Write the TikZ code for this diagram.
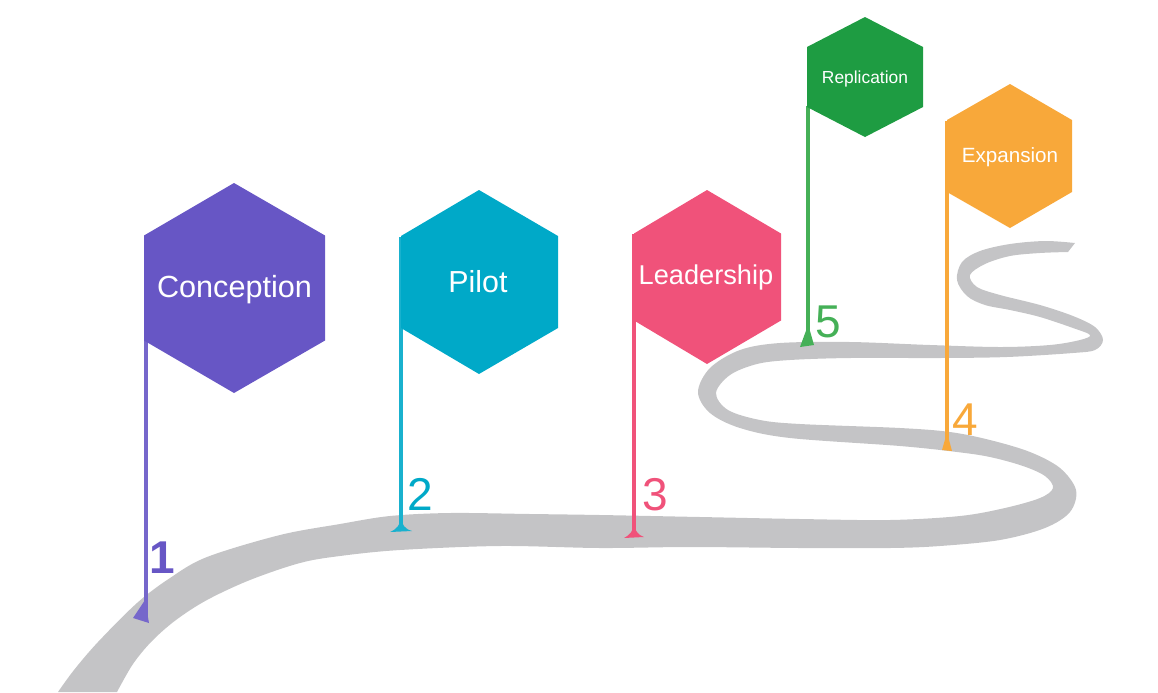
\documentclass[tikz,border=0pt]{standalone}
\usepackage{fontspec}
\setmainfont{Liberation Sans}
\usepackage{tikz}

\definecolor{roadgray}{HTML}{C4C4C6}
\definecolor{conccol}{HTML}{6756C5}
\definecolor{pilotcol}{HTML}{00A9C8}
\definecolor{leadcol}{HTML}{F0527A}
\definecolor{replcol}{HTML}{1E9C42}
\definecolor{replpole}{HTML}{45B057}
\definecolor{expcol}{HTML}{F8A83A}

\begin{document}
\begin{tikzpicture}[x=0.5pt,y=-0.5pt,
    hexlabel/.style={text=white, inner sep=0pt, anchor=base},
    numlabel/.style={inner sep=0pt, anchor=base, font=\fontsize{23}{26}\selectfont},
    pole/.style={line width=1.6pt}]
  \useasboundingbox (0,0) rectangle (1158,692);

  % the road
  \fill[roadgray] plot[smooth, tension=0.55] coordinates {
      (58,692) (74,670) (98,642) (137,603) (170,578) (207,557) (280,535)
      (340,524) (390,516) (450,513) (530,514) (600,515) (700,517) (800,519)
      (890,520) (960,516) (1005,508) (1040,498) (1053,488) (1045,476)
      (1023,466) (990,457) (957,452) (900,446) (790,438) (740,428) (710,413)
      (698,392) (710,368) (740,350) (780,343) (850,342) (930,345) (1000,347)
      (1050,345) (1080,340) (1090,335) (1073,328) (1040,317) (1010,310)
      (985,305) (967,296) (957,280) (962,262) (980,251) (1010,244) (1045,241)
      (1075,243)}
    -- plot[smooth, tension=0.55] coordinates {
      (1068,252) (1040,253) (1010,256) (985,264) (970,275) (977,287)
      (1000,295) (1040,305) (1073,316) (1095,327) (1103,340) (1095,350)
      (1073,353) (1007,357) (940,358) (850,358) (790,360) (757,364)
      (730,375) (716,393) (728,410) (760,420) (800,424) (900,428) (950,432)
      (990,440) (1030,452) (1060,468) (1076,490) (1070,512) (1045,528)
      (1000,540) (940,546) (890,548) (800,548) (690,547) (600,548) (500,546)
      (400,550) (340,556) (300,563) (250,580) (207,600) (176,620) (152,641)
      (133,664) (117,692)} -- cycle;

  % poles
  \coordinate (pole1 top) at (146,236);
  \coordinate (pole1 foot) at (146,620);
  \coordinate (pole2 top) at (401,237);
  \coordinate (pole2 foot) at (401,529);
  \coordinate (pole3 top) at (634,234);
  \coordinate (pole3 foot) at (634,534);
  \coordinate (pole5 top) at (808,106);
  \coordinate (pole5 foot) at (808,338);
  \coordinate (pole4 top) at (947,121);
  \coordinate (pole4 foot) at (947,445);

  \draw[pole, conccol!90!white] (pole1 top) -- (pole1 foot);
  \fill[conccol!90!white] (145,600) -- (133,618) -- (149,623) -- cycle;
  \draw[pole, pilotcol!90!white] (pole2 top) -- (pole2 foot);
  \fill[pilotcol!90!white] (390,532) .. controls (397,529) and (400,525) .. (401,518)
    .. controls (402,525) and (405,529) .. (412,531) -- cycle;
  \draw[pole, leadcol] (pole3 top) -- (pole3 foot);
  \fill[leadcol] (624,538) .. controls (630,535) and (633,531) .. (634,524)
    .. controls (635,531) and (638,535) .. (644,537) -- cycle;
  \draw[pole, replpole] (pole5 top) -- (pole5 foot);
  \fill[replpole] (800,347) -- (807,328) -- (810,331) -- (814,345) -- cycle;
  \draw[pole, expcol] (pole4 top) -- (pole4 foot);
  \fill[expcol] (942,450) -- (946,436) -- (948,436) -- (952,451) -- cycle;

  % hexagons
  \fill[conccol] (234,183) -- (325,235.5) -- (325,340.5) -- (234,393)
    -- (144,340.5) -- (144,235.5) -- cycle;
  \fill[pilotcol] (479,190) -- (558,236) -- (558,328) -- (479,374)
    -- (401,328) -- (401,236) -- cycle;
  \fill[leadcol] (707,190) -- (781,233.5) -- (781,320.5) -- (707,364)
    -- (634,320.5) -- (634,233.5) -- cycle;
  \fill[replcol] (865,17) -- (923,47) -- (923,107) -- (865,137)
    -- (807,107) -- (807,47) -- cycle;
  \fill[expcol] (1010,84) -- (1072,120) -- (1072,192) -- (1010,228)
    -- (947,192) -- (947,120) -- cycle;

  \node[hexlabel, font=\fontsize{15.3}{18}\selectfont] (conception) at (234.5,297) {Conception};
  \node[hexlabel, font=\fontsize{15.2}{18}\selectfont] (pilot) at (478,292) {Pilot};
  \node[hexlabel, font=\fontsize{13.6}{16}\selectfont] (leadership) at (706,284) {Leadership};
  \node[hexlabel, font=\fontsize{8.7}{10}\selectfont] (replication) at (865,83) {Replication};
  \node[hexlabel, font=\fontsize{10.3}{12}\selectfont] (expansion) at (1010,162) {Expansion};

  % step numbers
  \node[numlabel, conccol, font=\fontsize{23}{26}\selectfont\bfseries] (num1) at (162,573) {1};
  \node[numlabel, pilotcol] (num2) at (420,510) {2};
  \node[numlabel, leadcol] (num3) at (655,510) {3};
  \node[numlabel, replpole] (num5) at (828,337) {5};
  \node[numlabel, expcol] (num4) at (965,435) {4};
\end{tikzpicture}
\end{document}
